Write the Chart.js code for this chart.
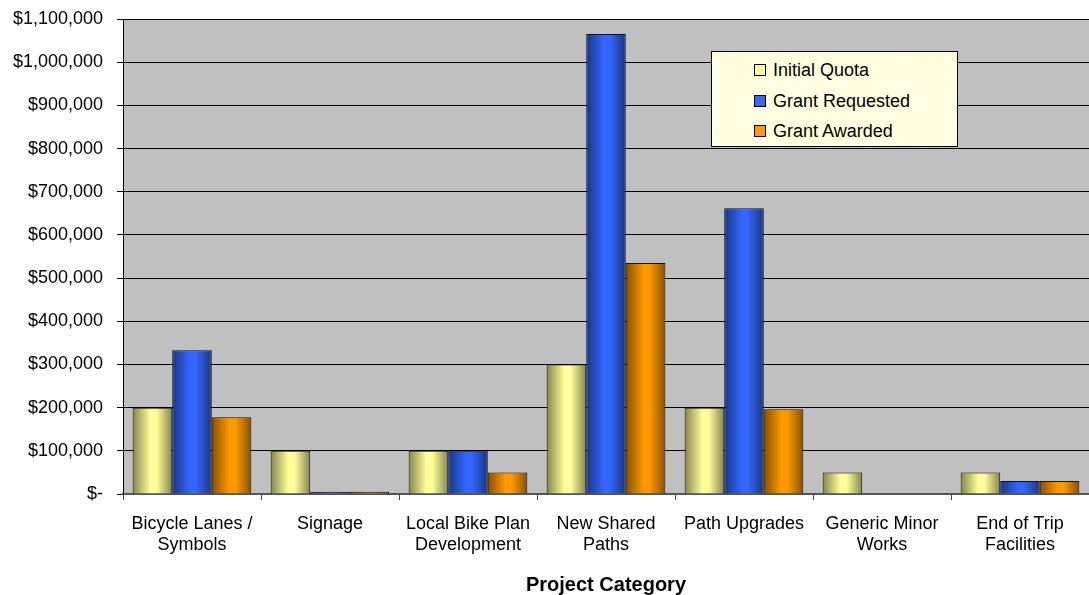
<!DOCTYPE html>
<html>
<head>
<meta charset="utf-8">
<script src="https://cdn.jsdelivr.net/npm/chart.js@4.4.1/dist/chart.umd.min.js"></script>
<style>
  html, body { margin: 0; padding: 0; background: #fff; }
  #wrap { position: relative; width: 1089px; height: 595px; }
  #legend {
    position: absolute; left: 711px; top: 51px; width: 245px; height: 94px;
    border: 1px solid #000; background-color: #ffffd6;
    background-image: repeating-linear-gradient(45deg, rgba(255,255,255,.5) 0 2px, transparent 2px 4px);
    font-family: "Liberation Sans", Arial, sans-serif; font-size: 18px; color: #000;
  }
  #legend div { position: absolute; left: 42px; height: 22px; line-height: 22px; white-space: nowrap; }
  #legend span { display: inline-block; width: 10px; height: 10px; border: 1px solid #000; margin-right: 7px; vertical-align: 0px; }
</style>
</head>
<body>
<div id="wrap">
  <canvas id="c" width="1089" height="595"></canvas>
  <div id="legend"></div>
</div>
<script>
const CATEGORIES = [['Bicycle Lanes /', 'Symbols'], 'Signage', ['Local Bike Plan', 'Development'],
  ['New Shared', 'Paths'], 'Path Upgrades', ['Generic Minor', 'Works'], ['End of Trip', 'Facilities']];
const INITIAL_QUOTA   = [200000, 100000, 100000, 300000, 200000, 50000, 50000];
const GRANT_REQUESTED = [333000, 5000, 100000, 1065000, 662000, 0, 30000];
const GRANT_AWARDED   = [178000, 5000, 50000, 535000, 196000, 0, 30000];
const SERIES = ['Initial Quota', 'Grant Requested', 'Grant Awarded'];

// edge / centre colours for the cylinder look
const SHADES = [
  { edge: '#85854f', mid: '#ffff99', flat: '#ffff99' },
  { edge: '#1a3580', mid: '#3366ff', flat: '#3366ff' },
  { edge: '#855000', mid: '#ff9900', flat: '#ff9900' },
];
const CAT_PCT = 0.86;

function barFill(ctx) {
  const chart = ctx.chart, xs = chart.scales.x;
  const sh = SHADES[ctx.datasetIndex];
  if (!xs || !chart.chartArea) return sh.flat;
  const cat = xs.width / CATEGORIES.length;
  const bw = cat * CAT_PCT / 3;
  const left = xs.getPixelForValue(ctx.dataIndex) - 1.5 * bw + ctx.datasetIndex * bw;
  const g = chart.ctx.createLinearGradient(left, 0, left + bw, 0);
  g.addColorStop(0, sh.edge);
  g.addColorStop(0.45, sh.mid);
  g.addColorStop(0.6, sh.mid);
  g.addColorStop(1, sh.edge);
  return g;
}

const plotBg = {
  id: 'plotBg',
  beforeDraw(chart) {
    const { ctx, chartArea: a } = chart;
    ctx.save();
    ctx.fillStyle = '#c0c0c0';
    ctx.fillRect(a.left, a.top, a.right - a.left, a.bottom - a.top);
    ctx.restore();
  }
};

const FONT = '"Liberation Sans", Arial, sans-serif';
Chart.defaults.font.family = FONT;
Chart.defaults.color = '#000';

new Chart('c', {
  type: 'bar',
  data: {
    labels: CATEGORIES,
    datasets: [INITIAL_QUOTA, GRANT_REQUESTED, GRANT_AWARDED].map((d, i) => ({
      label: SERIES[i], data: d,
      backgroundColor: barFill,
      borderColor: '#111', borderWidth: 1,
      categoryPercentage: CAT_PCT, barPercentage: 1
    }))
  },
  options: {
    responsive: false, animation: false,
    layout: { padding: { top: 19, right: 0, left: 0, bottom: 0 } },
    plugins: { legend: { display: false }, tooltip: { enabled: false } },
    scales: {
      x: {
        grid: { offset: true, drawOnChartArea: false, drawTicks: true, tickLength: 6, color: '#444' },
        border: { color: '#555', width: 2 },
        ticks: { font: { size: 18 }, color: '#000', padding: 13, maxRotation: 0, autoSkip: false },
        title: { display: true, text: 'Project Category', font: { size: 20, weight: 'bold' }, color: '#000', padding: { top: 4, bottom: -2 } },
        afterFit(s) { s.height = 101; }
      },
      y: {
        min: 0, max: 1100000,
        grid: { color: '#000', lineWidth: 1, tickLength: 6 },
        border: { color: '#000', width: 1 },
        ticks: {
          stepSize: 100000, font: { size: 18 }, color: '#000', padding: 14,
          callback: v => v === 0 ? '$-' : '$' + v.toLocaleString('en-US')
        },
        afterFit(s) { s.width = 123; s.paddingTop = 0; s.paddingBottom = 0; }
      }
    }
  },
  plugins: [plotBg]
});

document.getElementById('legend').innerHTML = SERIES.map((s, i) =>
  `<div style="top:${7 + i * 30.5}px"><span style="background:${SHADES[i].flat}"></span>${s}</div>`).join('');
</script>
</body>
</html>
